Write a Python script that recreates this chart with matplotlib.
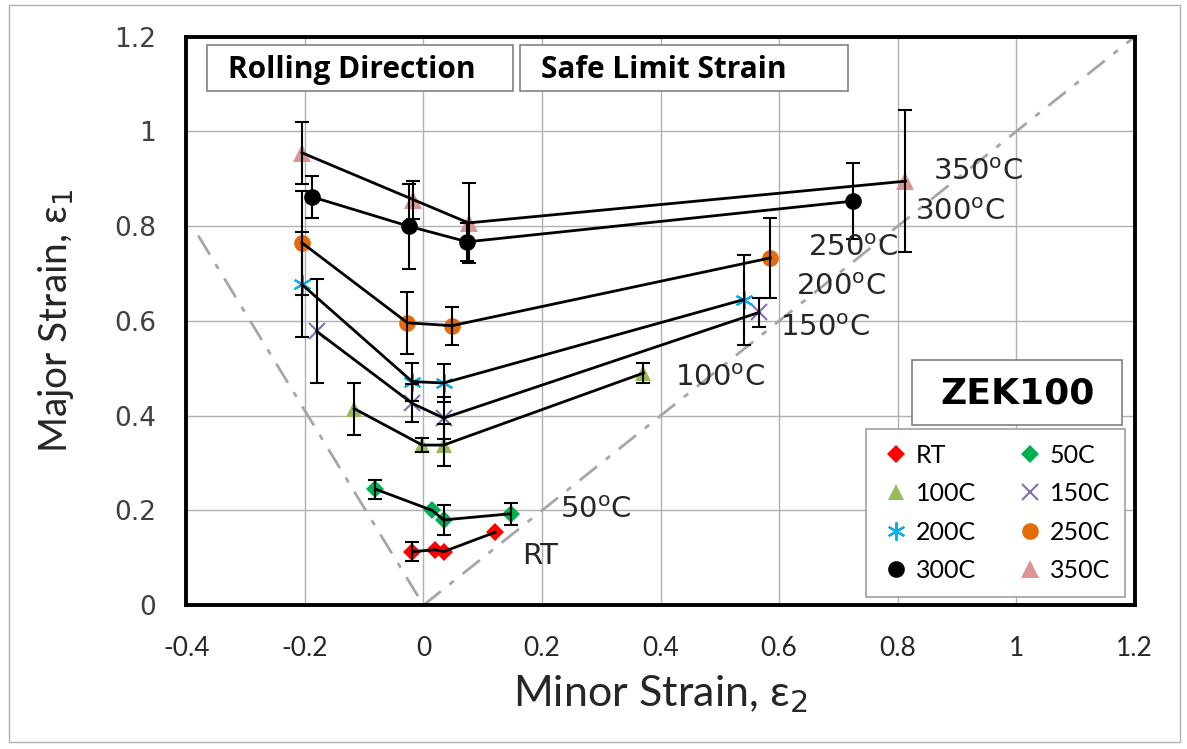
import numpy as np
import matplotlib.pyplot as plt
from matplotlib.patches import Rectangle
from matplotlib.lines import Line2D

nan = np.nan

# series (minor strain, major strain, error)
rt_x = [-0.019, 0.020, 0.034, 0.121]
rt_y = [0.113, 0.117, 0.113, 0.154]
rt_e = [0.02, nan, nan, nan]

c50_x = [-0.081, 0.015, 0.034, 0.147]
c50_y = [0.245, 0.200, 0.180, 0.193]
c50_e = [0.02, nan, 0.032, 0.023]

c100_x = [-0.117, -0.002, 0.034, 0.371]
c100_y = [0.415, 0.338, 0.338, 0.490]
c100_e = [0.055, 0.015, 0.045, 0.022]

c150_x = [-0.180, -0.019, 0.034, 0.566]
c150_y = [0.578, 0.426, 0.395, 0.618]
c150_e = [0.11, 0.04, 0.045, 0.03]

c200_x = [-0.205, -0.019, 0.034, 0.540]
c200_y = [0.677, 0.472, 0.469, 0.645]
c200_e = [0.11, 0.04, 0.04, 0.095]

c250_x = [-0.205, -0.027, 0.048, 0.585]
c250_y = [0.765, 0.596, 0.590, 0.733]
c250_e = [0.11, 0.065, 0.04, 0.085]

c300_x = [-0.188, -0.025, 0.074, 0.725]
c300_y = [0.862, 0.800, 0.767, 0.853]
c300_e = [0.045, 0.09, 0.04, 0.08]

c350_x = [-0.205, -0.017, 0.076, 0.813]
c350_y = [0.955, 0.856, 0.807, 0.895]
c350_e = [0.065, 0.04, 0.085, 0.15]

names = ['RT', '50C', '100C', '150C', '200C', '250C', '300C', '350C']

# curve labels next to the last point
lab_text = ['350$^{\\rm o}$C', '300$^{\\rm o}$C', '250$^{\\rm o}$C', '200$^{\\rm o}$C',
            '150$^{\\rm o}$C', '100$^{\\rm o}$C', '50$^{\\rm o}$C', 'RT']
lab_x = [0.86, 0.83, 0.649, 0.629, 0.602, 0.425, 0.231, 0.167]
lab_y = [0.915, 0.831, 0.755, 0.672, 0.585, 0.48, 0.2, 0.104]

# limit lines (uniaxial / equibiaxial)
uni_x = [-0.38, 0.0]
uni_y = [0.78, 0.0]
bi_x = [0.0, 1.2]
bi_y = [0.0, 1.2]

series = [
    (rt_x, rt_y, rt_e, 'D', '#ff0000', 9),
    (c50_x, c50_y, c50_e, 'D', '#00b050', 9),
    (c100_x, c100_y, c100_e, '^', '#9bbb59', 12),
    (c150_x, c150_y, c150_e, 'x', '#8470b0', 12),
    (c200_x, c200_y, c200_e, (6, 2, 0), '#00b0f0', 13),
    (c250_x, c250_y, c250_e, 'o', '#e36c09', 12),
    (c300_x, c300_y, c300_e, 'o', '#000000', 12),
    (c350_x, c350_y, c350_e, '^', '#d99694', 13),
]

fig = plt.figure(figsize=(11.87, 7.49), dpi=100)
ax = fig.add_axes([0.157, 0.192, 0.799, 0.759])

ax.plot(uni_x, uni_y, color='#a6a6a6', lw=2, ls=(0, (8, 4, 2, 4)), zorder=1)
ax.plot(bi_x, bi_y, color='#a6a6a6', lw=2, ls=(0, (8, 4, 2, 4)), zorder=1)

handles = []
for (x, y, e, m, c, ms), nm in zip(series, names):
    mw = 1.5 if m in ('x', (6, 2, 0)) else 0
    ax.plot(x, y, ls='none', marker=m, color=c, ms=ms, mew=mw, zorder=3)
    ax.plot(x, y, color='black', lw=2, zorder=4)
    ax.errorbar(x, y, yerr=e, fmt='none', ecolor='black', elinewidth=1.5,
                capsize=5, capthick=1.5, zorder=4)
    handles.append(Line2D([], [], ls='none', marker=m, color=c, ms=ms, mew=mw))

for t, lx, ly in zip(lab_text, lab_x, lab_y):
    ax.text(lx, ly, t, fontsize=21, color='#262626', va='center', ha='left',
            family='DejaVu Sans', zorder=5)

ax.set_xlim(-0.4, 1.2)
ax.set_ylim(0, 1.2)
xt = np.round(np.arange(-0.4, 1.21, 0.2), 1)
yt = np.round(np.arange(0, 1.21, 0.2), 1)
ax.set_xticks(xt)
ax.set_yticks(yt)
ax.set_xticklabels([f'{v:g}' for v in xt], family='Lato', fontsize=19, color='#262626')
ax.set_yticklabels([f'{v:g}' for v in yt], family='DejaVu Sans', fontsize=19, color='#404040')
ax.tick_params(length=0, pad=22)
ax.tick_params(axis='y', pad=22)
ax.grid(True, color='#b0b0b0', lw=1)
ax.set_axisbelow(True)
for s in ax.spines.values():
    s.set_linewidth(2.8)
    s.set_color('black')

ax.set_xlabel('Minor Strain, ε$_2$', family=['Lato', 'DejaVu Sans'], fontsize=31,
              color='#262626', labelpad=9)
ax.set_ylabel('Major Strain, ε$_1$', family=['Lato', 'DejaVu Sans'], fontsize=28,
              color='#262626', labelpad=27)

# header boxes
for x0, x1, txt in [(0.022, 0.3446, 'Rolling Direction'), (0.352, 0.6976, 'Safe Limit Strain')]:
    ax.add_patch(Rectangle((x0, 0.905), x1 - x0, 0.081, transform=ax.transAxes,
                           facecolor='white', edgecolor='#808080', lw=1.2, zorder=6))
    ax.text(x0 + 0.022, 0.942, txt, transform=ax.transAxes, fontsize=21.5,
            fontweight='bold', family='Open Sans', va='center', ha='left', zorder=7)

ax.add_patch(Rectangle((0.765, 0.317), 0.222, 0.114, transform=ax.transAxes,
                       facecolor='white', edgecolor='#808080', lw=1.2, zorder=6))
ax.text(0.876, 0.372, 'ZEK100', transform=ax.transAxes, fontsize=26, fontweight='bold',
        family='DejaVu Sans', va='center', ha='center', zorder=7)

# legend filled row-wise like the original
order = [0, 2, 4, 6, 1, 3, 5, 7]
leg = ax.legend([handles[i] for i in order], [names[i] for i in order], ncol=2,
                loc='lower left', bbox_to_anchor=(0.7165, 0.014, 0.273, 0.298),
                mode='expand', borderaxespad=0, fancybox=False,
                edgecolor='#a0a0a0', framealpha=1, prop={'family': 'Lato', 'size': 18},
                handletextpad=0.2, columnspacing=1.5, labelspacing=0.62,
                borderpad=0.6, handlelength=1.2)
leg.set_zorder(8)
leg.get_frame().set_linewidth(1.2)

fig.patches.append(Rectangle((0.008, 0.009), 0.986, 0.984, transform=fig.transFigure,
                             fill=False, edgecolor='#b0b0b0', lw=1))

fig.savefig('out.png', dpi=100)
